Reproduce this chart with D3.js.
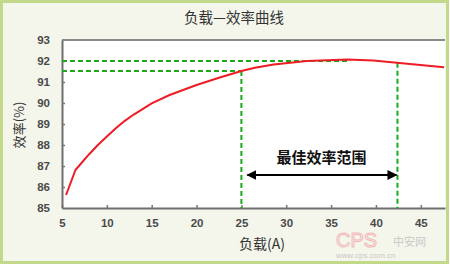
<!DOCTYPE html>
<html>
<head>
<meta charset="utf-8">
<script src="https://cdn.jsdelivr.net/npm/d3@7"></script>
<style>
  body { margin: 0; background: #fff; }
  svg { display: block; }
</style>
</head>
<body>
<svg id="chart"></svg>
<script>
// load (A) vs efficiency (%)
const loadA = [5.45, 6.5, 8, 9, 10, 11, 12, 13, 15, 17, 20, 22.5, 25, 26.5, 28.6, 32.3, 36.8, 39.7, 42.35, 44.95, 47.6];
const effPct = [85.62, 86.81, 87.55, 88.0, 88.4, 88.8, 89.15, 89.45, 89.98, 90.38, 90.86, 91.2, 91.52, 91.68, 91.83, 92.0, 92.07, 92.02, 91.92, 91.81, 91.7];
const xTicks = [5, 10, 15, 20, 25, 30, 35, 40, 45];
const yTicks = [85, 86, 87, 88, 89, 90, 91, 92, 93];
const bestRange = [25, 42.4];
const guideEff = [92.0, 91.52];

const width = 450, height = 266;
let margin = {top: 40, right: 5, bottom: 58, left: 62};

let svg = d3.select("#chart").attr("width", width).attr("height", height);

// frame
svg.append("rect").attr("x", 1.5).attr("y", 1.5).attr("width", width - 4).attr("height", height - 5)
  .attr("fill", "#f4f6ec").attr("stroke", "#c3d98a").attr("stroke-width", 3);

let xScale = d3.scaleLinear().domain([5, 47.7]).range([margin.left, width - margin.right]);
let yScale = d3.scaleLinear().domain([85, 93]).range([height - margin.bottom, margin.top]);

// plot area
svg.append("rect").attr("x", xScale(5)).attr("y", yScale(93))
  .attr("width", xScale(47.7) - xScale(5)).attr("height", yScale(85) - yScale(93))
  .attr("fill", "#fff");
svg.append("line").attr("x1", xScale(5)).attr("x2", xScale(47.7))
  .attr("y1", yScale(93)).attr("y2", yScale(93))
  .attr("stroke", "#8a8a8a").attr("stroke-width", 2);

// axes
let xAxis = d3.axisBottom(xScale).tickValues(xTicks).tickSizeInner(-3).tickSizeOuter(0).tickPadding(11);
let yAxis = d3.axisLeft(yScale).tickValues(yTicks).tickSizeInner(-3).tickSizeOuter(0).tickPadding(12);

let gx = svg.append("g").attr("transform", `translate(0, ${yScale(85)})`).call(xAxis);
let gy = svg.append("g").attr("transform", `translate(${xScale(5)}, 0)`).call(yAxis);
[gx, gy].forEach(g => {
  g.select(".domain").attr("stroke", "#6e6e6e").attr("stroke-width", 2);
  g.selectAll(".tick line").attr("stroke", "#777").attr("stroke-width", 1.5);
  g.selectAll(".tick text").attr("fill", "#4a4a4a").attr("font-size", 11.5)
    .attr("font-weight", "bold").attr("font-family", "Liberation Sans, Arial, sans-serif");
});
gy.selectAll(".tick line").filter(d => d === 93 || d === 85).remove();

// green guide lines
const green = "#1aa81a";
let guides = svg.append("g").attr("stroke", green).attr("stroke-width", 2).attr("stroke-dasharray", "5,3");
guides.append("line").attr("x1", xScale(5)).attr("x2", xScale(37.1))
  .attr("y1", yScale(guideEff[0])).attr("y2", yScale(guideEff[0]));
guides.append("line").attr("x1", xScale(5)).attr("x2", xScale(bestRange[0]))
  .attr("y1", yScale(guideEff[1])).attr("y2", yScale(guideEff[1]));
guides.append("line").attr("x1", xScale(bestRange[0])).attr("x2", xScale(bestRange[0]))
  .attr("y1", yScale(guideEff[1])).attr("y2", yScale(85));
guides.append("line").attr("x1", xScale(bestRange[1])).attr("x2", xScale(bestRange[1]))
  .attr("y1", yScale(91.92)).attr("y2", yScale(85));

// efficiency curve
let line = d3.line().x((d, i) => xScale(loadA[i])).y(d => yScale(d)).curve(d3.curveLinear);
svg.append("path").datum(effPct).attr("d", line)
  .attr("fill", "none").attr("stroke", "#ee1c24").attr("stroke-width", 2).attr("stroke-linejoin", "round");

// double arrow
let defs = svg.append("defs");
defs.append("marker").attr("id", "ah").attr("viewBox", "0 0 10 10").attr("refX", 9).attr("refY", 5)
  .attr("markerWidth", 5).attr("markerHeight", 5).attr("orient", "auto-start-reverse")
  .append("path").attr("d", "M0,0 L10,5 L0,10 Z").attr("fill", "#000");
svg.append("line").attr("x1", xScale(bestRange[0]) + 6).attr("x2", xScale(bestRange[1]) - 1)
  .attr("y1", 175).attr("y2", 175)
  .attr("stroke", "#000").attr("stroke-width", 2)
  .attr("marker-start", "url(#ah)").attr("marker-end", "url(#ah)");
svg.append("text").attr("x", (xScale(bestRange[0]) + xScale(bestRange[1])) / 2 + 2).attr("y", 163)
  .attr("text-anchor", "middle").attr("font-size", 15).attr("font-weight", "bold")
  .attr("font-family", "Noto Sans CJK SC").attr("fill", "#111").text("最佳效率范围");

// titles
svg.append("text").attr("x", 234).attr("y", 23).attr("text-anchor", "middle")
  .attr("font-size", 14.5).attr("font-family", "Noto Sans CJK SC").attr("fill", "#333")
  .text("负载—效率曲线");
svg.append("text").attr("x", 262).attr("y", 249).attr("text-anchor", "middle")
  .attr("font-size", 14).attr("font-family", "Noto Sans CJK SC").attr("fill", "#333")
  .text("负载(A)");
svg.append("text").attr("transform", "translate(24, 125) rotate(-90)").attr("text-anchor", "middle")
  .attr("font-size", 13).attr("font-family", "Noto Sans CJK SC").attr("fill", "#333")
  .text("效率(%)");

// watermark
svg.append("text").attr("x", 336).attr("y", 247).attr("font-size", 20)
  .attr("font-family", "Liberation Sans, Arial").attr("fill", "none")
  .attr("stroke", "#f2b8b8").attr("stroke-width", 1).text("CPS");
svg.append("text").attr("x", 393).attr("y", 246).attr("font-size", 11)
  .attr("font-family", "Noto Sans CJK SC").attr("fill", "#c8c8c8").text("中安网");
svg.append("text").attr("x", 336).attr("y", 258).attr("font-size", 8)
  .attr("font-family", "Liberation Sans, Arial").attr("fill", "#c8c8c8").text("www.cps.com.cn");
</script>
</body>
</html>
